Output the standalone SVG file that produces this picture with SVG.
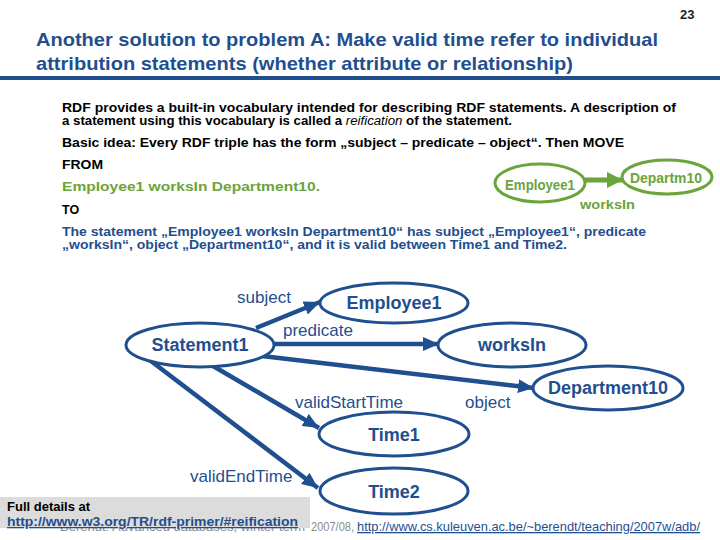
<svg xmlns="http://www.w3.org/2000/svg" width="720" height="540" viewBox="0 0 720 540">
<defs>
<style>
.t{font-family:"Liberation Sans",Arial,sans-serif}
.title{font-size:19px;font-weight:bold;fill:#1f4f8f}
.body{font-size:12.5px;font-weight:bold;fill:#000}
.green{font-size:12.5px;font-weight:bold;fill:#6aa43a}
.blue{font-size:12.5px;font-weight:bold;fill:#1f4f8f}
.node{fill:#fff;stroke:#1f4f8f;stroke-width:3}
.nlabel{font-size:18px;font-weight:bold;fill:#1f4f8f;text-anchor:middle}
.elabel{font-size:17px;fill:#1f4f8f}
.edge{stroke:#1f4f8f;stroke-width:4.5;fill:none}
.gnode{fill:#fff;stroke:#6aa43a;stroke-width:3}
.glabel{font-size:14px;font-weight:bold;fill:#6aa43a;text-anchor:middle}
</style>
<marker id="ah" markerUnits="userSpaceOnUse" markerWidth="16" markerHeight="14" viewBox="0 0 16 14" refX="16" refY="7" orient="auto">
<path d="M0,0 L16,7 L0,14 z" fill="#1f4f8f"/>
</marker>
<marker id="gh" markerUnits="userSpaceOnUse" markerWidth="16" markerHeight="16" viewBox="0 0 16 16" refX="16" refY="8" orient="auto">
<path d="M0,0 L16,8 L0,16 z" fill="#6aa43a"/>
</marker>
</defs>
<rect width="720" height="540" fill="#fff"/>
<text class="t" x="680" y="19" font-size="13" font-weight="bold" fill="#222">23</text>
<text class="t title" x="36" y="46" textLength="622" lengthAdjust="spacingAndGlyphs">Another solution to problem A: Make valid time refer to individual</text>
<text class="t title" x="36" y="70" textLength="537" lengthAdjust="spacingAndGlyphs">attribution statements (whether attribute or relationship)</text>
<rect x="0" y="76" width="720" height="4" fill="#1f4f8f"/>

<text class="t body" x="62" y="112" textLength="614" lengthAdjust="spacingAndGlyphs">RDF provides a built-in vocabulary intended for describing RDF statements. A description of</text>
<text class="t body" x="62" y="125" textLength="450" lengthAdjust="spacingAndGlyphs">a statement using this vocabulary is called a <tspan font-style="italic" font-weight="normal">reification</tspan> of the statement.</text>
<text class="t body" x="62" y="147" textLength="562" lengthAdjust="spacingAndGlyphs">Basic idea: Every RDF triple has the form „subject – predicate – object“. Then MOVE</text>
<text class="t body" x="62" y="169" textLength="41" lengthAdjust="spacingAndGlyphs">FROM</text>
<text class="t green" x="62" y="191" textLength="258" lengthAdjust="spacingAndGlyphs">Employee1 worksIn Department10.</text>
<text class="t body" x="62" y="214">TO</text>
<text class="t blue" x="62" y="236" textLength="584" lengthAdjust="spacingAndGlyphs">The statement „Employee1 worksIn Department10“ has subject „Employee1“, predicate</text>
<text class="t blue" x="62" y="249" textLength="505" lengthAdjust="spacingAndGlyphs">„worksIn“, object „Department10“, and it is valid between Time1 and Time2.</text>

<g id="mini">
<g id="g-employee1">
<ellipse class="gnode" cx="540" cy="183" rx="45" ry="19"/>
<text class="t glabel" x="540" y="190" textLength="70" lengthAdjust="spacingAndGlyphs">Employee1</text>
</g>
<g id="g-departm10">
<ellipse class="gnode" cx="667" cy="177" rx="45" ry="17"/>
<text class="t glabel" x="666" y="183" textLength="72" lengthAdjust="spacingAndGlyphs">Departm10</text>
</g>
<g id="g-edge">
<line x1="585" y1="180" x2="623" y2="180" stroke="#6aa43a" stroke-width="5" marker-end="url(#gh)"/>
<text class="t green" x="580" y="209" font-size="14.5" textLength="55" lengthAdjust="spacingAndGlyphs">worksIn</text>
</g>
</g>

<g id="connectors">
<line class="edge" x1="256" y1="328" x2="320" y2="302" marker-end="url(#ah)"/>
<line class="edge" x1="275" y1="344" x2="439" y2="344" marker-end="url(#ah)"/>
<line class="edge" x1="262" y1="356" x2="534" y2="388" marker-end="url(#ah)"/>
<line class="edge" x1="213" y1="366" x2="319" y2="428" marker-end="url(#ah)"/>
<line class="edge" x1="143" y1="355" x2="318" y2="488" marker-end="url(#ah)"/>
<text class="t elabel" x="237" y="303">subject</text>
<text class="t elabel" x="283" y="336">predicate</text>
<text class="t elabel" x="465" y="408">object</text>
<text class="t elabel" x="295" y="408">validStartTime</text>
<text class="t elabel" x="190" y="482">validEndTime</text>
</g>

<g id="statement1">
<ellipse class="node" cx="200" cy="345" rx="74" ry="22"/>
<text class="t nlabel" x="200" y="351">Statement1</text>
</g>
<g id="employee1">
<ellipse class="node" cx="394" cy="303" rx="74" ry="20"/>
<text class="t nlabel" x="394" y="309">Employee1</text>
</g>
<g id="worksin">
<ellipse class="node" cx="512" cy="345" rx="74" ry="22"/>
<text class="t nlabel" x="512" y="351">worksIn</text>
</g>
<g id="department10">
<ellipse class="node" cx="608" cy="388" rx="75" ry="22"/>
<text class="t nlabel" x="608" y="394">Department10</text>
</g>
<g id="time1">
<ellipse class="node" cx="394" cy="434" rx="75" ry="22"/>
<text class="t nlabel" x="394" y="441">Time1</text>
</g>
<g id="time2">
<ellipse class="node" cx="394" cy="491" rx="74" ry="23"/>
<text class="t nlabel" x="394" y="498">Time2</text>
</g>

<text class="t" x="60" y="531" font-size="13" fill="#8a8a8a" textLength="245" lengthAdjust="spacingAndGlyphs">Berendt: Advanced databases, winter term</text>
<text class="t" x="311" y="531" font-size="13" fill="#8a8a8a" textLength="43" lengthAdjust="spacingAndGlyphs">2007/08,</text>
<text class="t" x="357" y="531" font-size="13" fill="#1f4f8f" text-decoration="underline" textLength="343" lengthAdjust="spacingAndGlyphs">http://www.cs.kuleuven.ac.be/~berendt/teaching/2007w/adb/</text>
<rect x="0" y="497" width="310" height="31" fill="#dcdcdc"/>
<text class="t" x="7" y="511" font-size="13" font-weight="bold" fill="#000">Full details at</text>
<text class="t" x="7" y="526" font-size="13" font-weight="bold" fill="#1f4f8f" text-decoration="underline" textLength="291" lengthAdjust="spacingAndGlyphs">http://www.w3.org/TR/rdf-primer/#reification</text>
</svg>
